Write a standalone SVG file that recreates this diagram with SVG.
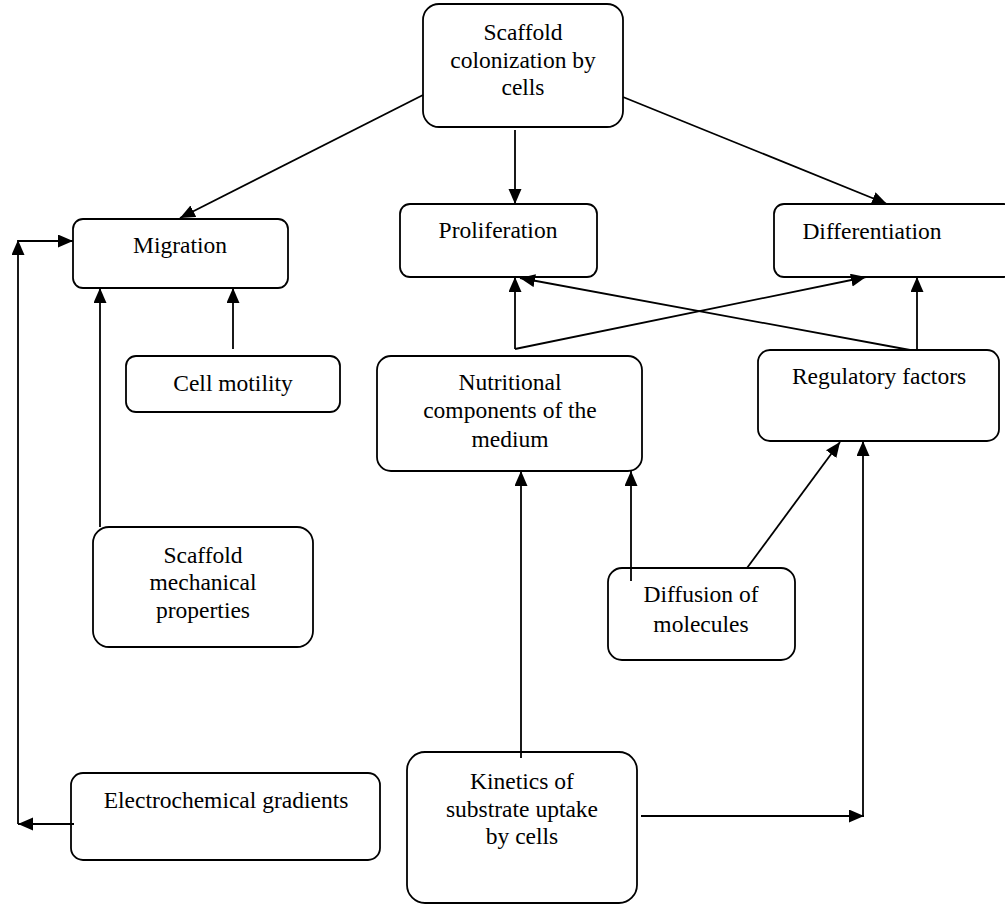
<svg xmlns="http://www.w3.org/2000/svg" width="1005" height="905" viewBox="0 0 1005 905">
<style>
.box{fill:#fff;stroke:#000;stroke-width:1.8}
.t{font-family:"Liberation Serif","Times New Roman",serif;font-size:23.5px;fill:#000;text-anchor:middle}
.c{fill:none;stroke:#000;stroke-width:1.8}
</style>
<defs>
<marker id="ah" markerUnits="userSpaceOnUse" markerWidth="16" markerHeight="14" refX="15" refY="6.5" orient="auto">
<path d="M0,0 L15,6.5 L0,13 Z" fill="#000"/>
</marker>
</defs>
<g id="n-scaffold"><rect class="box" x="423" y="4" width="200" height="123" rx="16"/>
<text class="t" x="523" y="40">Scaffold</text><text class="t" x="523" y="68">colonization by</text><text class="t" x="523" y="95">cells</text></g>
<g id="n-migration"><rect class="box" x="73" y="219" width="215" height="69" rx="10"/>
<text class="t" x="180" y="253">Migration</text></g>
<g id="n-proliferation"><rect class="box" x="400" y="204" width="197" height="73" rx="10"/>
<text class="t" x="498" y="238">Proliferation</text></g>
<g id="n-differentiation"><rect class="box" x="774" y="204" width="240" height="73" rx="10"/>
<text class="t" x="872" y="239">Differentiation</text></g>
<g id="n-motility"><rect class="box" x="126" y="356" width="214" height="56" rx="10"/>
<text class="t" x="233" y="391">Cell motility</text></g>
<g id="n-nutritional"><rect class="box" x="377" y="356" width="265" height="115" rx="14"/>
<text class="t" x="510" y="390">Nutritional</text><text class="t" x="510" y="418">components of the</text><text class="t" x="510" y="447">medium</text></g>
<g id="n-regulatory"><rect class="box" x="758" y="350" width="241" height="91" rx="12"/>
<text class="t" x="879" y="384">Regulatory factors</text></g>
<g id="n-mechanical"><rect class="box" x="93" y="527" width="220" height="120" rx="16"/>
<text class="t" x="203" y="563">Scaffold</text><text class="t" x="203" y="590">mechanical</text><text class="t" x="203" y="618">properties</text></g>
<g id="n-diffusion"><rect class="box" x="608" y="568" width="187" height="92" rx="14"/>
<text class="t" x="701" y="602">Diffusion of</text><text class="t" x="701" y="632">molecules</text></g>
<g id="n-electro"><rect class="box" x="71" y="773" width="309" height="87" rx="12"/>
<text class="t" x="226" y="808">Electrochemical gradients</text></g>
<g id="n-kinetics"><rect class="box" x="407" y="752" width="230" height="151" rx="18"/>
<text class="t" x="522" y="789">Kinetics of</text><text class="t" x="522" y="817">substrate uptake</text><text class="t" x="522" y="844">by cells</text></g>
<g id="connectors">
<line class="c" x1="423" y1="95" x2="180" y2="218" marker-end="url(#ah)"/>
<line class="c" x1="515" y1="130" x2="515" y2="204" marker-end="url(#ah)"/>
<line class="c" x1="623" y1="97" x2="887" y2="204" marker-end="url(#ah)"/>
<line class="c" x1="233" y1="349" x2="233" y2="288" marker-end="url(#ah)"/>
<line class="c" x1="100" y1="527" x2="100" y2="288" marker-end="url(#ah)"/>
<line class="c" x1="515" y1="349" x2="515" y2="277" marker-end="url(#ah)"/>
<line class="c" x1="515" y1="349" x2="866" y2="277" marker-end="url(#ah)"/>
<line class="c" x1="917" y1="350" x2="917" y2="277" marker-end="url(#ah)"/>
<line class="c" x1="910" y1="350" x2="520" y2="278" marker-end="url(#ah)"/>
<line class="c" x1="631" y1="581" x2="631" y2="471" marker-end="url(#ah)"/>
<line class="c" x1="747" y1="568" x2="840" y2="442" marker-end="url(#ah)"/>
<line class="c" x1="521" y1="758" x2="521" y2="471" marker-end="url(#ah)"/>
<line class="c" x1="641" y1="816" x2="864" y2="816" marker-end="url(#ah)"/>
<line class="c" x1="863" y1="816" x2="863" y2="441" marker-end="url(#ah)"/>
<line class="c" x1="74" y1="824" x2="18" y2="824" marker-end="url(#ah)"/>
<line class="c" x1="18" y1="824" x2="18" y2="240" marker-end="url(#ah)"/>
<line class="c" x1="18" y1="241" x2="73" y2="241" marker-end="url(#ah)"/>
</g>
</svg>
